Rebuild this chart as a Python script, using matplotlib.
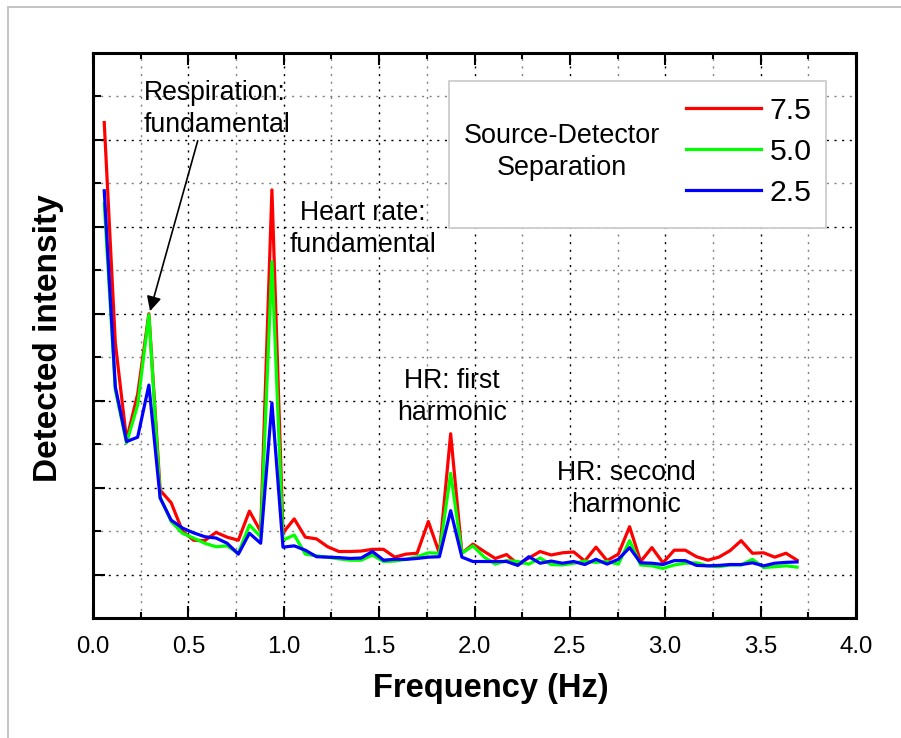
import matplotlib
matplotlib.use('Agg')

import matplotlib.pyplot as plt
from matplotlib.patches import Rectangle
from matplotlib.ticker import MultipleLocator, FormatStrFormatter, NullFormatter

plt.rcParams['font.family'] = ['Liberation Sans', 'DejaVu Sans']

# spectrum bins (Hz)
freq = [0.059, 0.117, 0.176, 0.234, 0.293, 0.352, 0.410, 0.469, 0.527, 0.586,
        0.645, 0.703, 0.762, 0.820, 0.879, 0.938, 0.996, 1.055, 1.113, 1.172,
        1.230, 1.289, 1.348, 1.406, 1.465, 1.523, 1.582, 1.641, 1.699, 1.758,
        1.816, 1.875, 1.934, 1.992, 2.051, 2.109, 2.168, 2.227, 2.285, 2.344,
        2.402, 2.461, 2.520, 2.578, 2.637, 2.695, 2.754, 2.813, 2.871, 2.930,
        2.988, 3.047, 3.105, 3.164, 3.223, 3.281, 3.340, 3.398, 3.457, 3.516,
        3.574, 3.633, 3.691]

sep_75 = [11.40, 6.33, 4.10, 5.15, 7.00, 2.94, 2.65, 2.00, 1.79, 1.78,
          1.97, 1.86, 1.79, 2.46, 1.99, 9.85, 1.96, 2.28, 1.86, 1.82,
          1.64, 1.53, 1.53, 1.54, 1.58, 1.58, 1.40, 1.47, 1.49, 2.22,
          1.49, 4.24, 1.49, 1.70, 1.53, 1.37, 1.46, 1.24, 1.38, 1.53,
          1.45, 1.50, 1.52, 1.31, 1.63, 1.32, 1.47, 2.10, 1.30, 1.62,
          1.27, 1.56, 1.56, 1.41, 1.33, 1.40, 1.55, 1.78, 1.49, 1.50,
          1.40, 1.49, 1.33]

sep_50 = [9.53, 5.25, 4.03, 4.90, 6.98, 2.78, 2.22, 1.95, 1.84, 1.72,
          1.64, 1.66, 1.49, 2.14, 1.87, 8.20, 1.79, 1.91, 1.47, 1.43,
          1.40, 1.36, 1.33, 1.33, 1.45, 1.30, 1.31, 1.35, 1.41, 1.50,
          1.49, 3.33, 1.49, 1.66, 1.40, 1.24, 1.32, 1.30, 1.24, 1.38,
          1.23, 1.22, 1.26, 1.31, 1.28, 1.30, 1.24, 1.78, 1.22, 1.20,
          1.14, 1.22, 1.26, 1.27, 1.20, 1.18, 1.22, 1.22, 1.35, 1.16,
          1.18, 1.20, 1.17]

sep_25 = [9.83, 5.32, 4.06, 4.16, 5.36, 2.76, 2.25, 2.07, 1.96, 1.87,
          1.84, 1.72, 1.47, 1.95, 1.72, 4.95, 1.63, 1.66, 1.56, 1.41,
          1.40, 1.39, 1.37, 1.38, 1.53, 1.33, 1.35, 1.35, 1.37, 1.40,
          1.41, 2.47, 1.40, 1.30, 1.30, 1.30, 1.30, 1.21, 1.41, 1.26,
          1.31, 1.26, 1.30, 1.23, 1.35, 1.24, 1.35, 1.62, 1.27, 1.26,
          1.23, 1.32, 1.32, 1.21, 1.20, 1.21, 1.23, 1.23, 1.27, 1.20,
          1.26, 1.28, 1.29]

series = [('7.5', sep_75, '#ff0000'),
          ('5.0', sep_50, '#00ff00'),
          ('2.5', sep_25, '#0000ff')]

fig = plt.figure(figsize=(9.01, 7.38), dpi=100)
ax = fig.add_axes([93 / 901, 1 - 618 / 738, 763 / 901, 565 / 738])

# light grey page frame
fig.add_artist(Rectangle((8 / 901, -0.1), 2.0, 0.1 + 1 - 7 / 738,
                         transform=fig.transFigure, fill=False,
                         edgecolor='#c4c4c4', linewidth=1.4))

handles = []
for label, vals, color in series:
    ln, = ax.plot(freq, vals, color=color, lw=2.3, label=label, zorder=3)
    handles.append(ln)

ax.set_xlim(0, 4.0)
ax.set_ylim(0, 13)
ax.xaxis.set_major_locator(MultipleLocator(0.5))
ax.xaxis.set_minor_locator(MultipleLocator(0.25))
ax.xaxis.set_major_formatter(FormatStrFormatter('%.1f'))
ax.set_yticks([1, 3, 5, 7, 9, 11])
ax.set_yticks([2, 4, 6, 8, 10, 12], minor=True)
ax.yaxis.set_major_formatter(NullFormatter())

ax.set_axisbelow(True)
ax.grid(True, which='major', color='black', lw=1.0, linestyle=(0, (1.5, 4)))
ax.grid(True, which='minor', color='#808080', lw=1.0, linestyle=(0, (1.5, 4)))

ax.tick_params(axis='x', which='major', direction='in', length=8.5, width=1.5,
               top=True, labelsize=17.3, pad=13)
ax.tick_params(axis='x', which='minor', direction='in', length=4.5, width=1.5,
               top=True)
ax.tick_params(axis='y', which='major', direction='in', length=8.5, width=1.5)
ax.tick_params(axis='y', which='minor', direction='in', length=6, width=1.5)
for sp in ax.spines.values():
    sp.set_linewidth(2.2)

ax.set_xlabel('Frequency (Hz)', fontsize=23.5, fontweight='bold', va='center')
ax.xaxis.set_label_coords(0.522, (618 - 688) / 565)
ax.set_ylabel('Detected intensity', fontsize=24, fontweight='bold', va='center')
ax.yaxis.set_label_coords((49 - 93) / 763, 0.496)

# legend box with its title on the left
ax.add_patch(Rectangle((0.4666, 0.6908), 0.4937, 0.2602, transform=ax.transAxes,
                       facecolor='white', edgecolor='#c8c8c8', lw=1.2, zorder=1.5))
ax.text(0.6143, 0.8248, 'Source-Detector\nSeparation', transform=ax.transAxes,
        ha='center', va='center', fontsize=19.4, linespacing=1.3, zorder=4)
ax.legend(handles=handles, loc='center left', bbox_to_anchor=(0.7768, 0.8253),
          frameon=False, fontsize=21.8, handlelength=2.5, handletextpad=0.28,
          labelspacing=0.43, borderpad=0, borderaxespad=0)

# peak annotations
txt = dict(fontsize=19.2, linespacing=1.3, zorder=4)
ax.text(0.267, 11.72, 'Respiration:\nfundamental', ha='left', va='center', **txt)
ax.annotate('', xy=(0.299, 7.06), xytext=(0.549, 10.98),
            arrowprops=dict(arrowstyle='-|>', color='black', lw=1.2,
                            mutation_scale=22, shrinkA=0, shrinkB=0))
ax.text(1.413, 8.94, 'Heart rate:\nfundamental', ha='center', va='center', **txt)
ax.text(1.882, 5.08, 'HR: first\nharmonic', ha='center', va='center', **txt)
ax.text(2.794, 2.97, 'HR: second\nharmonic', ha='center', va='center', **txt)

fig.savefig('out.png', dpi=100)
